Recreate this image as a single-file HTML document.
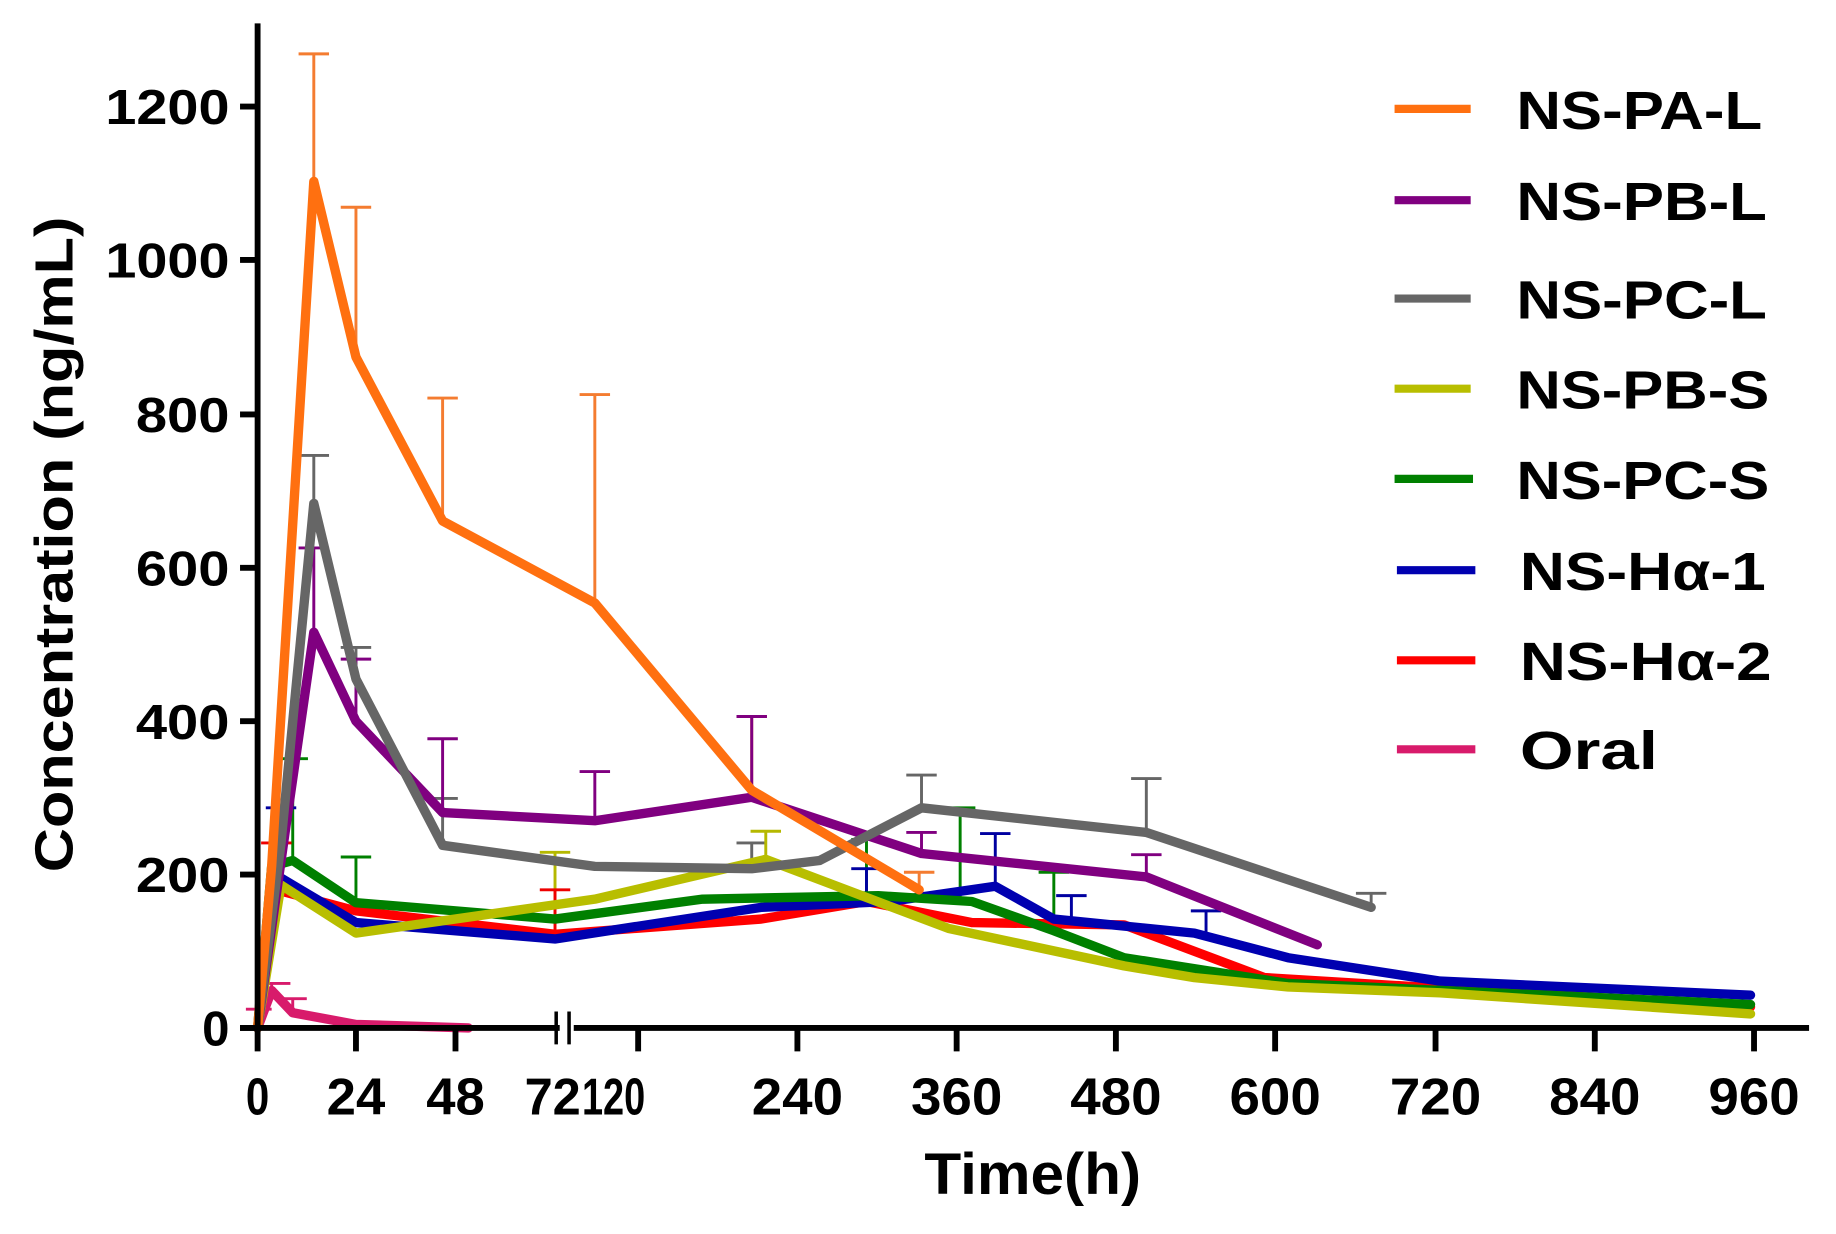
<!DOCTYPE html>
<html><head><style>html,body{margin:0;padding:0;background:#fff}svg{display:block}</style></head><body>
<svg width="1836" height="1234" viewBox="0 0 1568 1054" preserveAspectRatio="none" xmlns="http://www.w3.org/2000/svg" font-family="Liberation Sans, Arial, sans-serif" font-weight="bold">
<rect width="1568" height="1054" fill="#fff"/>
<!-- error bars -->
<g stroke-width="2.5" fill="none">
<g stroke="#f47c30">
<path d="M268 155V46M255 46H281M304 305V177M291 177H317M378 445V340M365 340H391M508 515V337M495 337H521M642 675V612M629 612H655M785 760V745M772 745H798"/>
</g>
<g stroke="#666">
<path d="M268 430V389M255 389H281M304 580V553M291 553H317M378 722V682M365 682H391M642 742V720M629 720H655M787 690V662M774 662H800M979 711V665M966 665H992M1171 775V763M1158 763H1184"/>
</g>
<g stroke="#800080">
<path d="M268 540V468M255 468H281M304 616V563M291 563H317M378 694V631M365 631H391M508 701V659M495 659H521M642 681V612M629 612H655M787 729V711M774 711H800M979 749V730M966 730H992"/>
</g>
<g stroke="#b5b800"><path d="M654 734V710M641 710H667M474 788V728M461 728H487"/></g>
<g stroke="#008000"><path d="M250 735V648M237 648H263M304 771V732M291 732H317M740 765V717M727 717H753M820 770V690M807 690H833M900 795V745M887 745H913"/></g>
<g stroke="#0000a0"><path d="M240 750V690M227 690H253M740 770V742M727 742H753M850 757V712M837 712H863M915 785V765M902 765H928M1030 797V778M1017 778H1043"/></g>
<g stroke="#e00"><path d="M236 760V720M223 720H249M474 798V760M461 760H487"/></g>
<g stroke="#d81b6b"><path d="M232 848V840M222 840H248M250 866V853M240 853H262M220 878V862M210 862H232"/></g>
</g>
<!-- series -->
<g fill="none" stroke-width="8" stroke-linejoin="round" stroke-linecap="round">
<polyline stroke="#d81b6b" points="220,878 232,846 250,865 304,875 400,878"/>
<polyline stroke="#ff0000" points="220,878 236,760 304,778 474,798 650,785 740,770 830,788 960,790 1080,835 1495,860"/>
<polyline stroke="#0000b0" points="220,878 240,750 304,788 474,802 650,775 760,770 850,757 900,785 1020,797 1100,818 1230,838 1495,850"/>
<polyline stroke="#008000" points="220,878 232,740 250,735 304,771 474,785 600,768 750,765 830,770 900,795 960,818 1100,840 1495,858"/>
<polyline stroke="#b8be00" points="220,878 240,756 304,797 508,768 654,734 810,793 960,825 1020,835 1100,843 1230,848 1495,866"/>
<polyline stroke="#800080" points="220,878 245,700 268,540 304,616 378,694 508,701 642,681 787,729 979,749 1125,807"/>
<polyline stroke="#666666" points="220,878 240,720 268,430 304,580 378,722 508,740 642,742 700,735 787,690 979,711 1171,775"/>
<polyline stroke="#ff7010" points="220,878 232,740 268,155 304,305 378,445 508,515 642,675 785,760"/>
</g>
<!-- axes -->
<g stroke="#000" stroke-width="5" fill="none">
<path d="M220 20V881"/>
<path d="M205 878H478M490 878H1545"/>
<path d="M220 878H205M205 91H220M205 222H220M205 354H220M205 485H220M205 616H220M205 747H220"/>
<path d="M220 878V898M304 878V898M389 878V898M545 878V898M681 878V898M817 878V898M953 878V898M1089 878V898M1226 878V898M1362 878V898M1498 878V898"/>
</g>
<g stroke="#000" stroke-width="3"><path d="M475 864V892M486 864V892"/></g>
<g font-size="42" text-anchor="end">
<text x="196" y="106" textLength="106" lengthAdjust="spacingAndGlyphs">1200</text><text x="196" y="237" textLength="106" lengthAdjust="spacingAndGlyphs">1000</text><text x="196" y="369" textLength="80" lengthAdjust="spacingAndGlyphs">800</text><text x="196" y="500" textLength="80" lengthAdjust="spacingAndGlyphs">600</text><text x="196" y="631" textLength="80" lengthAdjust="spacingAndGlyphs">400</text><text x="196" y="762" textLength="80" lengthAdjust="spacingAndGlyphs">200</text><text x="196" y="893">0</text>
</g>
<g font-size="44" text-anchor="middle">
<text x="220" y="952" textLength="20" lengthAdjust="spacingAndGlyphs">0</text>
<text x="304" y="952" textLength="50" lengthAdjust="spacingAndGlyphs">24</text>
<text x="389" y="952" textLength="50" lengthAdjust="spacingAndGlyphs">48</text>
<text x="472" y="952" textLength="48" lengthAdjust="spacingAndGlyphs">72</text>
<text x="524" y="952" textLength="54" lengthAdjust="spacingAndGlyphs">120</text>
<text x="681" y="952" textLength="78" lengthAdjust="spacingAndGlyphs">240</text>
<text x="817" y="952" textLength="78" lengthAdjust="spacingAndGlyphs">360</text>
<text x="953" y="952" textLength="78" lengthAdjust="spacingAndGlyphs">480</text>
<text x="1089" y="952" textLength="78" lengthAdjust="spacingAndGlyphs">600</text>
<text x="1226" y="952" textLength="78" lengthAdjust="spacingAndGlyphs">720</text>
<text x="1362" y="952" textLength="78" lengthAdjust="spacingAndGlyphs">840</text>
<text x="1498" y="952" textLength="78" lengthAdjust="spacingAndGlyphs">960</text>
</g>
<text x="882" y="1020" font-size="50" text-anchor="middle" textLength="185" lengthAdjust="spacingAndGlyphs">Time(h)</text>
<text transform="translate(62,465) rotate(-90)" font-size="46" text-anchor="middle" textLength="560" lengthAdjust="spacingAndGlyphs">Concentration (ng/mL)</text>
<!-- legend -->
<g stroke-width="7">
<line x1="1191" y1="93" x2="1256" y2="93" stroke="#ff7010"/>
<line x1="1191" y1="171" x2="1256" y2="171" stroke="#800080"/>
<line x1="1191" y1="255" x2="1256" y2="255" stroke="#666"/>
<line x1="1191" y1="332" x2="1256" y2="332" stroke="#b8be00"/>
<line x1="1191" y1="409" x2="1258" y2="409" stroke="#008000"/>
<line x1="1193" y1="487" x2="1260" y2="487" stroke="#0000b0"/>
<line x1="1193" y1="564" x2="1260" y2="564" stroke="#ff0000"/>
<line x1="1193" y1="640" x2="1260" y2="640" stroke="#d81b6b"/>
</g>
<g font-size="46">
<text x="1295" y="110" textLength="210" lengthAdjust="spacingAndGlyphs">NS-PA-L</text>
<text x="1295" y="188" textLength="214" lengthAdjust="spacingAndGlyphs">NS-PB-L</text>
<text x="1295" y="272" textLength="214" lengthAdjust="spacingAndGlyphs">NS-PC-L</text>
<text x="1295" y="349" textLength="216" lengthAdjust="spacingAndGlyphs">NS-PB-S</text>
<text x="1295" y="426" textLength="216" lengthAdjust="spacingAndGlyphs">NS-PC-S</text>
<text x="1298" y="504" textLength="210" lengthAdjust="spacingAndGlyphs">NS-Hα-1</text>
<text x="1298" y="581" textLength="215" lengthAdjust="spacingAndGlyphs">NS-Hα-2</text>
<text x="1298" y="657" textLength="118" lengthAdjust="spacingAndGlyphs">Oral</text>
</g>
</svg>
</body></html>
